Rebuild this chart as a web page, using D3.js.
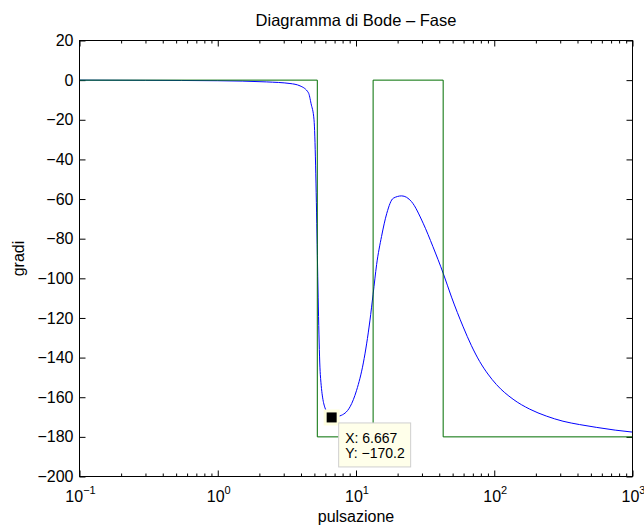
<!DOCTYPE html>
<html>
<head>
<meta charset="utf-8">
<script src="https://cdn.jsdelivr.net/npm/d3@7"></script>
<style>
html,body{margin:0;padding:0;background:#fff;}
svg{display:block;}
text{font-family:"Liberation Sans",Arial,Helvetica,sans-serif;fill:#000;}
</style>
</head>
<body>
<svg id="chart" width="644" height="525"></svg>
<script>
// ---- data ----
const omega = [0.1, 0.3, 1, 2.26, 3.33, 3.94, 4.53, 4.73, 4.97, 5.52, 5.97, 6.667, 7.66, 9.06, 10.1, 11.3, 12.6, 13.3, 14.1, 15.3, 16.7, 18.6, 21.4, 25.2, 30.6, 36, 42.7, 49.1, 59.6, 68.4, 78.5, 90, 103.7, 136.8, 180.4, 238, 314, 414, 547, 750, 1000];
const phase = [0, -0.1, -0.3, -0.9, -1.7, -2.9, -6.4, -11.8, -20, -148.6, -165.4, -170.2, -169.4, -164.8, -156.5, -142.7, -121.5, -108, -93, -78.9, -67.2, -59.6, -58.4, -61.3, -72.2, -84, -97.4, -109.5, -124.5, -134, -142, -148.3, -153.6, -161, -166, -169.5, -172.1, -173.8, -175.2, -176.6, -177.6];
const stepOmega = [0.1, 5.25, 5.25, 13.3, 13.3, 42.7, 42.7, 1000];
const stepPhase = [0, 0, -180, -180, 0, 0, -180, -180];
const xMajor = [0.1, 1, 10, 100, 1000];
const xMajorExp = ["−1", "0", "1", "2", "3"];
const yTicks = [-200, -180, -160, -140, -120, -100, -80, -60, -40, -20, 0, 20];
const tip = {x: 6.667, y: -170.2, xLabel: "X: 6.667", yLabel: "Y: −170.2"};
const titleText = "Diagramma di Bode – Fase";
const xLabelText = "pulsazione";
const yLabelText = "gradi";

// ---- layout ----
const L = 79.5, R = 632.5, T = 40.5, B = 476.5;
const svg = d3.select("#chart");
const x = d3.scaleLog().domain([0.1, 1000]).range([L, R]);
const y = d3.scaleLinear().domain([-200, 20]).range([B, T]);

// minor ticks
const xMinor = [];
for (let e = -1; e < 3; e++) for (let k = 2; k <= 9; k++) xMinor.push(k * Math.pow(10, e));

function styleAxis(g) {
  g.select(".domain").remove();
  g.selectAll(".tick line").attr("stroke", "#000").attr("stroke-width", 1);
}

// bottom
svg.append("g").attr("transform", `translate(0,${B})`)
  .call(d3.axisBottom(x).tickValues(xMajor).tickSize(-6).tickFormat(""))
  .call(styleAxis);
svg.append("g").attr("transform", `translate(0,${B})`)
  .call(d3.axisBottom(x).tickValues(xMinor).tickSize(-3).tickFormat(""))
  .call(styleAxis);
// top
svg.append("g").attr("transform", `translate(0,${T})`)
  .call(d3.axisTop(x).tickValues(xMajor).tickSize(-6).tickFormat(""))
  .call(styleAxis);
svg.append("g").attr("transform", `translate(0,${T})`)
  .call(d3.axisTop(x).tickValues(xMinor).tickSize(-3).tickFormat(""))
  .call(styleAxis);
// left
const gl = svg.append("g").attr("transform", `translate(${L},0)`)
  .call(d3.axisLeft(y).tickValues(yTicks).tickSize(-6).tickPadding(6))
  .call(styleAxis);
gl.selectAll(".tick text").attr("font-size", 16).attr("font-family", '"Liberation Sans",Arial,sans-serif').attr("fill", "#000");
// right
svg.append("g").attr("transform", `translate(${R},0)`)
  .call(d3.axisRight(y).tickValues(yTicks).tickSize(-6).tickFormat(""))
  .call(styleAxis);

// x tick labels with superscripts
const xl = svg.append("g");
xMajor.forEach((v, i) => {
  const t = xl.append("text").attr("x", x(v) + 1).attr("y", B + 25)
    .attr("text-anchor", "middle").attr("font-size", 16);
  t.append("tspan").text("10");
  t.append("tspan").attr("font-size", 11).attr("dy", -8).text(xMajorExp[i]);
});

// clip
svg.append("clipPath").attr("id", "clip").append("rect")
  .attr("x", L).attr("y", T).attr("width", R - L).attr("height", B - T);

const plot = svg.append("g").attr("clip-path", "url(#clip)");
const smooth = d3.line().x(d => x(d[0])).y(d => y(d[1])).curve(d3.curveMonotoneX);
const line = d3.line().x(d => x(d[0])).y(d => y(d[1]));

plot.append("path")
  .datum(omega.map((w, i) => [w, phase[i]]))
  .attr("d", smooth).attr("fill", "none").attr("stroke", "#0000ff").attr("stroke-width", 1);

plot.append("path")
  .datum(stepOmega.map((w, i) => [w, stepPhase[i]]))
  .attr("d", line).attr("fill", "none").attr("stroke", "#006e00").attr("stroke-width", 1);

// box
svg.append("rect").attr("x", L).attr("y", T).attr("width", R - L).attr("height", B - T)
  .attr("fill", "none").attr("stroke", "#000").attr("stroke-width", 1);

// datatip
const mx = x(tip.x), my = y(tip.y);
svg.append("rect").attr("x", mx - 8).attr("y", my - 8).attr("width", 16).attr("height", 16)
  .attr("fill", "#ffffe0");
svg.append("rect").attr("x", mx - 5).attr("y", my - 5).attr("width", 10).attr("height", 10)
  .attr("fill", "#000");
svg.append("rect").attr("x", mx + 7).attr("y", my + 5.5).attr("width", 72).attr("height", 44)
  .attr("fill", "#ffffea").attr("stroke", "#cfcfcf").attr("stroke-width", 1);
svg.append("text").attr("x", mx + 13.5).attr("y", my + 25.5).attr("font-size", 14).text(tip.xLabel);
svg.append("text").attr("x", mx + 13.5).attr("y", my + 40.5).attr("font-size", 14).text(tip.yLabel);

// titles
svg.append("text").attr("x", (L + R) / 2).attr("y", 26).attr("text-anchor", "middle")
  .attr("font-size", 16.5).text(titleText);
svg.append("text").attr("x", (L + R) / 2).attr("y", 522).attr("text-anchor", "middle")
  .attr("font-size", 16).text(xLabelText);
svg.append("text").attr("transform", `translate(24,${(T + B) / 2}) rotate(-90)`)
  .attr("text-anchor", "middle").attr("font-size", 16).text(yLabelText);
</script>
</body>
</html>
